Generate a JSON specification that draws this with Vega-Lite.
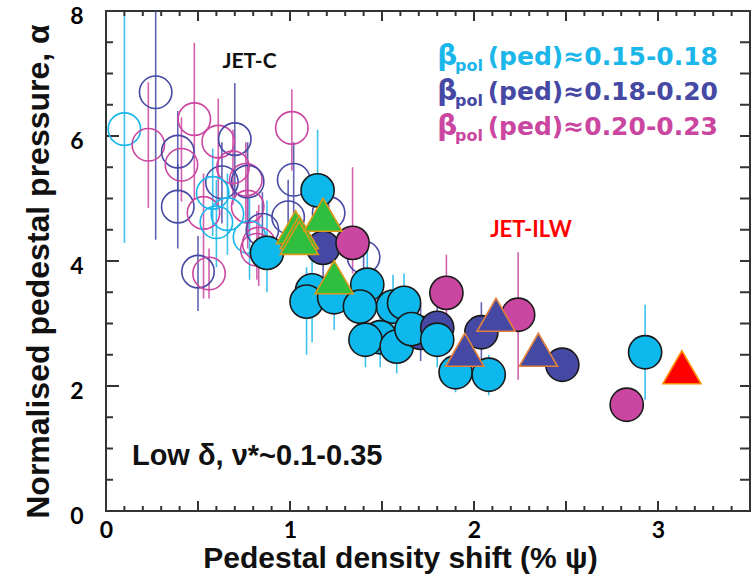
{
  "$schema": "https://vega.github.io/schema/vega-lite/v6.json",
  "width": 644,
  "height": 500,
  "autosize": "none",
  "padding": {"left": 106, "top": 11, "right": 6, "bottom": 64},
  "background": "white",
  "config": {"view": {"stroke": "#333", "strokeWidth": 2}},
  "datasets": {
    "xt": [{"v":0,"e":0},{"v":0.1,"e":0},{"v":0.2,"e":0},{"v":0.3,"e":0},{"v":0.4,"e":0},{"v":0.5,"e":0},{"v":0.6,"e":0},{"v":0.7,"e":0},{"v":0.8,"e":0},{"v":0.9,"e":0},{"v":1,"e":0},{"v":1.1,"e":0},{"v":1.2,"e":0},{"v":1.3,"e":0},{"v":1.4,"e":0},{"v":1.5,"e":0},{"v":1.6,"e":0},{"v":1.7,"e":0},{"v":1.8,"e":0},{"v":1.9,"e":0},{"v":2,"e":0},{"v":2.1,"e":0},{"v":2.2,"e":0},{"v":2.3,"e":0},{"v":2.4,"e":0},{"v":2.5,"e":0},{"v":2.6,"e":0},{"v":2.7,"e":0},{"v":2.8,"e":0},{"v":2.9,"e":0},{"v":3,"e":0},{"v":3.1,"e":0},{"v":3.2,"e":0},{"v":3.3,"e":0},{"v":3.4,"e":0},{"v":3.5,"e":0},
           {"v":0,"e":8},{"v":0.1,"e":8},{"v":0.2,"e":8},{"v":0.3,"e":8},{"v":0.4,"e":8},{"v":0.5,"e":8},{"v":0.6,"e":8},{"v":0.7,"e":8},{"v":0.8,"e":8},{"v":0.9,"e":8},{"v":1,"e":8},{"v":1.1,"e":8},{"v":1.2,"e":8},{"v":1.3,"e":8},{"v":1.4,"e":8},{"v":1.5,"e":8},{"v":1.6,"e":8},{"v":1.7,"e":8},{"v":1.8,"e":8},{"v":1.9,"e":8},{"v":2,"e":8},{"v":2.1,"e":8},{"v":2.2,"e":8},{"v":2.3,"e":8},{"v":2.4,"e":8},{"v":2.5,"e":8},{"v":2.6,"e":8},{"v":2.7,"e":8},{"v":2.8,"e":8},{"v":2.9,"e":8},{"v":3,"e":8},{"v":3.1,"e":8},{"v":3.2,"e":8},{"v":3.3,"e":8},{"v":3.4,"e":8},{"v":3.5,"e":8}],
    "yt": [{"v":0,"e":0},{"v":0.5,"e":0},{"v":1,"e":0},{"v":1.5,"e":0},{"v":2,"e":0},{"v":2.5,"e":0},{"v":3,"e":0},{"v":3.5,"e":0},{"v":4,"e":0},{"v":4.5,"e":0},{"v":5,"e":0},{"v":5.5,"e":0},{"v":6,"e":0},{"v":6.5,"e":0},{"v":7,"e":0},{"v":7.5,"e":0},{"v":8,"e":0},
           {"v":0,"e":3.5},{"v":0.5,"e":3.5},{"v":1,"e":3.5},{"v":1.5,"e":3.5},{"v":2,"e":3.5},{"v":2.5,"e":3.5},{"v":3,"e":3.5},{"v":3.5,"e":3.5},{"v":4,"e":3.5},{"v":4.5,"e":3.5},{"v":5,"e":3.5},{"v":5.5,"e":3.5},{"v":6,"e":3.5},{"v":6.5,"e":3.5},{"v":7,"e":3.5},{"v":7.5,"e":3.5},{"v":8,"e":3.5}],
    "pts": [
      {"g": "c", "t": "o", "x": 0.10, "y": 6.11, "lo": 4.29, "hi": 7.94},
      {"g": "b", "t": "o", "x": 0.27, "y": 6.70, "lo": 4.34, "hi": 8.0},
      {"g": "m", "t": "o", "x": 0.23, "y": 5.86, "lo": 4.85, "hi": 6.86},
      {"g": "m", "t": "o", "x": 0.48, "y": 6.27, "lo": 4.98, "hi": 7.49},
      {"g": "b", "t": "o", "x": 0.39, "y": 5.75, "lo": 5.1, "hi": 6.4},
      {"g": "m", "t": "o", "x": 0.41, "y": 5.54, "lo": 4.95, "hi": 6.3},
      {"g": "b", "t": "o", "x": 0.39, "y": 4.87, "lo": 4.2, "hi": 5.55},
      {"g": "m", "t": "o", "x": 0.61, "y": 5.91, "lo": 4.9, "hi": 6.6},
      {"g": "b", "t": "o", "x": 0.70, "y": 5.95, "lo": 5.0, "hi": 6.85},
      {"g": "m", "t": "o", "x": 1.01, "y": 6.13, "lo": 5.45, "hi": 6.75},
      {"g": "b", "t": "o", "x": 1.02, "y": 5.30, "lo": 4.5, "hi": 5.9},
      {"g": "b", "t": "o", "x": 0.63, "y": 5.26, "lo": 4.6, "hi": 5.9},
      {"g": "m", "t": "o", "x": 0.76, "y": 5.30, "lo": 4.6, "hi": 5.9},
      {"g": "b", "t": "o", "x": 0.77, "y": 5.27, "lo": 4.4, "hi": 5.9},
      {"g": "m", "t": "o", "x": 0.69, "y": 5.50, "lo": 4.9, "hi": 6.1},
      {"g": "m", "t": "o", "x": 0.77, "y": 4.87, "lo": 4.2, "hi": 5.5},
      {"g": "m", "t": "o", "x": 0.53, "y": 4.77, "lo": 3.4, "hi": 5.4},
      {"g": "c", "t": "o", "x": 0.58, "y": 5.09, "lo": 4.4, "hi": 5.8},
      {"g": "c", "t": "o", "x": 0.60, "y": 4.62, "lo": 3.9, "hi": 5.3},
      {"g": "c", "t": "o", "x": 0.66, "y": 4.75, "lo": 4.1, "hi": 5.4},
      {"g": "c", "t": "o", "x": 0.78, "y": 4.38, "lo": 3.7, "hi": 5.0},
      {"g": "m", "t": "o", "x": 0.83, "y": 4.28, "lo": 3.6, "hi": 4.9},
      {"g": "m", "t": "o", "x": 0.82, "y": 4.18, "lo": 3.7, "hi": 4.8},
      {"g": "b", "t": "o", "x": 0.85, "y": 4.50, "lo": 3.9, "hi": 5.1},
      {"g": "b", "t": "o", "x": 0.99, "y": 4.70, "lo": 4.1, "hi": 5.3},
      {"g": "b", "t": "o", "x": 0.50, "y": 3.83, "lo": 3.2, "hi": 4.4},
      {"g": "m", "t": "o", "x": 0.56, "y": 3.80, "lo": 3.4, "hi": 4.2},
      {"g": "b", "t": "o", "x": 1.21, "y": 4.77, "lo": 4.2, "hi": 5.3},
      {"g": "b", "t": "o", "x": 1.40, "y": 4.06, "lo": 3.6, "hi": 4.5},
      {"g": "c", "t": "f", "x": 1.15, "y": 5.13, "lo": 4.6, "hi": 6.1},
      {"g": "c", "t": "f", "x": 0.875, "y": 4.13, "lo": 3.5, "hi": 4.97},
      {"g": "c", "t": "f", "x": 1.12, "y": 3.53, "lo": 2.7, "hi": 4.0},
      {"g": "c", "t": "f", "x": 1.09, "y": 3.35, "lo": 2.5, "hi": 3.9},
      {"g": "c", "t": "f", "x": 1.24, "y": 3.42, "lo": 2.9, "hi": 3.9},
      {"g": "c", "t": "f", "x": 1.42, "y": 3.62, "lo": 3.1, "hi": 4.2},
      {"g": "c", "t": "f", "x": 1.56, "y": 3.27, "lo": 2.8, "hi": 3.78},
      {"g": "c", "t": "f", "x": 1.38, "y": 3.27, "lo": 2.8, "hi": 3.7},
      {"g": "c", "t": "f", "x": 1.62, "y": 3.33, "lo": 2.9, "hi": 3.8},
      {"g": "c", "t": "f", "x": 1.49, "y": 2.78, "lo": 2.3, "hi": 3.2},
      {"g": "c", "t": "f", "x": 1.41, "y": 2.74, "lo": 2.3, "hi": 3.2},
      {"g": "c", "t": "f", "x": 1.58, "y": 2.63, "lo": 2.2, "hi": 3.0},
      {"g": "b", "t": "f", "x": 1.71, "y": 2.85, "lo": 2.4, "hi": 3.3},
      {"g": "c", "t": "f", "x": 1.66, "y": 2.91, "lo": 2.5, "hi": 3.3},
      {"g": "b", "t": "f", "x": 1.18, "y": 4.21, "lo": 3.7, "hi": 4.8},
      {"g": "m", "t": "f", "x": 1.34, "y": 4.29, "lo": 3.8, "hi": 5.5},
      {"g": "m", "t": "f", "x": 1.85, "y": 3.49, "lo": 3.0, "hi": 4.1},
      {"g": "b", "t": "f", "x": 1.80, "y": 2.93, "lo": 2.5, "hi": 3.42},
      {"g": "c", "t": "f", "x": 1.80, "y": 2.74, "lo": 2.3, "hi": 3.2},
      {"g": "m", "t": "f", "x": 2.24, "y": 3.14, "lo": 2.1, "hi": 4.14},
      {"g": "b", "t": "f", "x": 2.04, "y": 2.86, "lo": 2.4, "hi": 3.34},
      {"g": "c", "t": "f", "x": 1.90, "y": 2.22, "lo": 1.9, "hi": 2.6},
      {"g": "c", "t": "f", "x": 2.08, "y": 2.18, "lo": 1.85, "hi": 2.5},
      {"g": "b", "t": "f", "x": 2.48, "y": 2.34},
      {"g": "m", "t": "f", "x": 2.83, "y": 1.70},
      {"g": "c", "t": "f", "x": 2.93, "y": 2.54, "lo": 1.78, "hi": 3.3},
      {"g": "tg", "t": "t", "x": 1.03, "y": 4.54},
      {"g": "tg", "t": "t", "x": 1.05, "y": 4.46},
      {"g": "tg", "t": "t", "x": 1.05, "y": 4.37},
      {"g": "tg", "t": "t", "x": 1.18, "y": 4.74},
      {"g": "tg", "t": "t", "x": 1.24, "y": 3.74},
      {"g": "tb", "t": "t", "x": 2.12, "y": 3.14},
      {"g": "tb", "t": "t", "x": 1.95, "y": 2.58},
      {"g": "tb", "t": "t", "x": 2.35, "y": 2.58},
      {"g": "tr", "t": "t", "x": 3.13, "y": 2.30}
    ]
  },
  "resolve": {"axis": {"x": "independent", "y": "independent"}},
  "layer": [
    {
      "data": {"name": "pts"},
      "transform": [{"filter": "isValid(datum.lo)"}],
      "mark": {"type": "rule", "strokeWidth": 1.6, "opacity": 0.85},
      "encoding": {
        "x": {
          "field": "x", "type": "quantitative",
          "scale": {"domain": [0, 3.5], "nice": false, "zero": false},
          "axis": {
            "orient": "bottom", "ticks": false, "domain": false,
            "values": [0,1,2,3],
            "format": "d",
            "labelFont": "Lato", "labelFontSize": 23, "labelFontWeight": "bold", "labelColor": "#000",
            "labelPadding": 8, "labelOverlap": false, "labelFlush": false, "labelBound": false,
            "grid": false,
            "title": "Pedestal density shift (% ψ)",
            "titleFont": "Liberation Sans", "titleFontSize": 30, "titleFontWeight": "bold", "titleColor": "#111",
            "titleX": 294, "titleY": 47, "titleBaseline": "middle", "titleAlign": "center"
          }
        },
        "y": {
          "field": "lo", "type": "quantitative",
          "scale": {"domain": [0, 8], "nice": false, "zero": false},
          "axis": {
            "orient": "left", "ticks": false, "domain": false,
            "values": [0,2,4,6,8],
            "format": "d",
            "labelFont": "Lato", "labelFontSize": 23, "labelFontWeight": "bold", "labelColor": "#000",
            "labelPadding": 23, "labelOffset": 5, "labelOverlap": false, "labelFlush": false, "labelBound": false,
            "grid": false,
            "title": "Normalised pedestal pressure, α",
            "titleFont": "Liberation Sans", "titleFontSize": 32, "titleFontWeight": "bold", "titleColor": "#111",
            "titleX": -68, "titleY": 260, "titleAngle": -90, "titleBaseline": "middle", "titleAlign": "center"
          }
        },
        "y2": {"field": "hi"},
        "color": {"field": "g", "type": "nominal", "legend": null,
          "scale": {"domain": ["c", "b", "m"], "range": ["#1BB6EA", "#4649A4", "#CA46A0"]}}
      }
    },
    {
      "data": {"name": "xt"},
      "transform": [{"filter": "datum.e === 0"}],
      "mark": {"type": "rule", "strokeWidth": 2, "color": "#333", "y2Offset": -5},
      "encoding": {
        "x": {"field": "v", "type": "quantitative", "axis": null},
        "y": {"field": "e", "type": "quantitative", "axis": null},
        "y2": {"field": "e"}
      }
    },
    {
      "data": {"name": "xt"},
      "transform": [{"filter": "datum.e === 0 && abs(datum.v*2 - round(datum.v*2)) < 0.001"}],
      "mark": {"type": "rule", "strokeWidth": 2, "color": "#333", "y2Offset": -10},
      "encoding": {
        "x": {"field": "v", "type": "quantitative", "axis": null},
        "y": {"field": "e", "type": "quantitative", "axis": null},
        "y2": {"field": "e"}
      }
    },
    {
      "data": {"name": "xt"},
      "transform": [{"filter": "datum.e === 8"}],
      "mark": {"type": "rule", "strokeWidth": 2, "color": "#333", "y2Offset": 5},
      "encoding": {
        "x": {"field": "v", "type": "quantitative", "axis": null},
        "y": {"field": "e", "type": "quantitative", "axis": null},
        "y2": {"field": "e"}
      }
    },
    {
      "data": {"name": "xt"},
      "transform": [{"filter": "datum.e === 8 && abs(datum.v*2 - round(datum.v*2)) < 0.001"}],
      "mark": {"type": "rule", "strokeWidth": 2, "color": "#333", "y2Offset": 10},
      "encoding": {
        "x": {"field": "v", "type": "quantitative", "axis": null},
        "y": {"field": "e", "type": "quantitative", "axis": null},
        "y2": {"field": "e"}
      }
    },
    {
      "data": {"name": "yt"},
      "transform": [{"filter": "datum.e === 0"}],
      "mark": {"type": "rule", "strokeWidth": 2, "color": "#333", "x2Offset": 7},
      "encoding": {
        "y": {"field": "v", "type": "quantitative", "axis": null},
        "x": {"field": "e", "type": "quantitative", "axis": null},
        "x2": {"field": "e"}
      }
    },
    {
      "data": {"name": "yt"},
      "transform": [{"filter": "datum.e === 0 && abs(datum.v/2 - round(datum.v/2)) < 0.001"}],
      "mark": {"type": "rule", "strokeWidth": 2, "color": "#333", "x2Offset": 13},
      "encoding": {
        "y": {"field": "v", "type": "quantitative", "axis": null},
        "x": {"field": "e", "type": "quantitative", "axis": null},
        "x2": {"field": "e"}
      }
    },
    {
      "data": {"name": "yt"},
      "transform": [{"filter": "datum.e === 3.5"}],
      "mark": {"type": "rule", "strokeWidth": 2, "color": "#333", "x2Offset": -10},
      "encoding": {
        "y": {"field": "v", "type": "quantitative", "axis": null},
        "x": {"field": "e", "type": "quantitative", "axis": null},
        "x2": {"field": "e"}
      }
    },
    {
      "data": {"name": "pts"},
      "transform": [{"filter": "datum.t === 'o'"}],
      "mark": {"type": "point", "shape": "circle", "filled": false, "size": 1050, "strokeWidth": 1.6, "opacity": 1},
      "encoding": {
        "x": {"field": "x", "type": "quantitative", "axis": null},
        "y": {"field": "y", "type": "quantitative", "axis": null},
        "color": {"field": "g", "type": "nominal", "legend": null,
          "scale": {"domain": ["c", "b", "m"], "range": ["#1BB6EA", "#4649A4", "#CA46A0"]}}
      }
    },
    {
      "data": {"name": "pts"},
      "transform": [{"filter": "datum.t !== 'o'"}],
      "mark": {"type": "point", "filled": true, "strokeWidth": 1.6, "opacity": 1},
      "encoding": {
        "x": {"field": "x", "type": "quantitative", "axis": null},
        "y": {"field": "y", "type": "quantitative", "axis": null},
        "shape": {"field": "t", "type": "nominal", "legend": null,
          "scale": {"domain": ["f", "t"], "range": ["circle", "triangle-up"]}},
        "size": {"field": "t", "type": "nominal", "legend": null,
          "scale": {"domain": ["f", "t"], "range": [1100, 1450]}},
        "fill": {"field": "g", "type": "nominal", "legend": null,
          "scale": {"domain": ["c", "b", "m", "tg", "tb", "tr"], "range": ["#0DB8EC", "#4649A4", "#CA46A0", "#2FBE3E", "#4649A4", "#FF0000"]}},
        "stroke": {"field": "g", "type": "nominal", "legend": null,
          "scale": {"domain": ["c", "b", "m", "tg", "tb", "tr"], "range": ["#1A1A1A", "#1A1A1A", "#1A1A1A", "#D99A1A", "#E0803A", "#FF8C00"]}}
      }
    },
    {
      "data": {"values": [
        {"s": "(ped)≈0.15-0.18", "x": 3.326, "y": 7.136, "k": "c"},
        {"s": "(ped)≈0.18-0.20", "x": 3.326, "y": 6.576, "k": "b"},
        {"s": "(ped)≈0.20-0.23", "x": 3.326, "y": 6.016, "k": "m"}
      ]},
      "mark": {"type": "text", "align": "right", "baseline": "alphabetic", "font": "DejaVu Sans", "fontSize": 25, "fontWeight": "bold"},
      "encoding": {
        "x": {"field": "x", "type": "quantitative", "axis": null},
        "y": {"field": "y", "type": "quantitative", "axis": null},
        "text": {"field": "s"},
        "color": {"field": "k", "type": "nominal", "legend": null,
          "scale": {"domain": ["c", "b", "m"], "range": ["#1BB6EA", "#3E3FA0", "#C03E9C"]}}
      }
    },
    {
      "data": {"values": [
        {"s": "β", "x": 1.80, "y": 7.136, "k": "c"},
        {"s": "β", "x": 1.80, "y": 6.576, "k": "b"},
        {"s": "β", "x": 1.80, "y": 6.016, "k": "m"}
      ]},
      "mark": {"type": "text", "align": "left", "baseline": "alphabetic", "font": "DejaVu Sans", "fontSize": 28, "fontWeight": "bold"},
      "encoding": {
        "x": {"field": "x", "type": "quantitative", "axis": null},
        "y": {"field": "y", "type": "quantitative", "axis": null},
        "text": {"field": "s"},
        "color": {"field": "k", "type": "nominal", "legend": null,
          "scale": {"domain": ["c", "b", "m"], "range": ["#1BB6EA", "#3E3FA0", "#C03E9C"]}}
      }
    },
    {
      "data": {"values": [
        {"s": "pol", "x": 1.897, "y": 7.04, "k": "c"},
        {"s": "pol", "x": 1.897, "y": 6.48, "k": "b"},
        {"s": "pol", "x": 1.897, "y": 5.92, "k": "m"}
      ]},
      "mark": {"type": "text", "align": "left", "baseline": "alphabetic", "font": "DejaVu Sans", "fontSize": 16, "fontWeight": "bold"},
      "encoding": {
        "x": {"field": "x", "type": "quantitative", "axis": null},
        "y": {"field": "y", "type": "quantitative", "axis": null},
        "text": {"field": "s"},
        "color": {"field": "k", "type": "nominal", "legend": null,
          "scale": {"domain": ["c", "b", "m"], "range": ["#1BB6EA", "#3E3FA0", "#C03E9C"]}}
      }
    },
    {
      "data": {"values": [{"s": "JET-C", "x": 0.78, "y": 7.18}]},
      "mark": {"type": "text", "align": "center", "baseline": "middle", "font": "Lato", "fontSize": 21, "fontWeight": "bold", "color": "#111"},
      "encoding": {
        "x": {"field": "x", "type": "quantitative", "axis": null},
        "y": {"field": "y", "type": "quantitative", "axis": null},
        "text": {"field": "s"}
      }
    },
    {
      "data": {"values": [{"s": "JET-ILW", "x": 2.31, "y": 4.5}]},
      "mark": {"type": "text", "align": "center", "baseline": "middle", "font": "Lato", "fontSize": 22, "fontWeight": "bold", "color": "#FF0000"},
      "encoding": {
        "x": {"field": "x", "type": "quantitative", "axis": null},
        "y": {"field": "y", "type": "quantitative", "axis": null},
        "text": {"field": "s"}
      }
    },
    {
      "data": {"values": [{"s": "Low δ, ν*~0.1-0.35", "x": 0.141, "y": 0.88}]},
      "mark": {"type": "text", "align": "left", "baseline": "middle", "font": "Liberation Sans", "fontSize": 29, "fontWeight": "bold", "color": "#111"},
      "encoding": {
        "x": {"field": "x", "type": "quantitative", "axis": null},
        "y": {"field": "y", "type": "quantitative", "axis": null},
        "text": {"field": "s"}
      }
    }
  ]
}
